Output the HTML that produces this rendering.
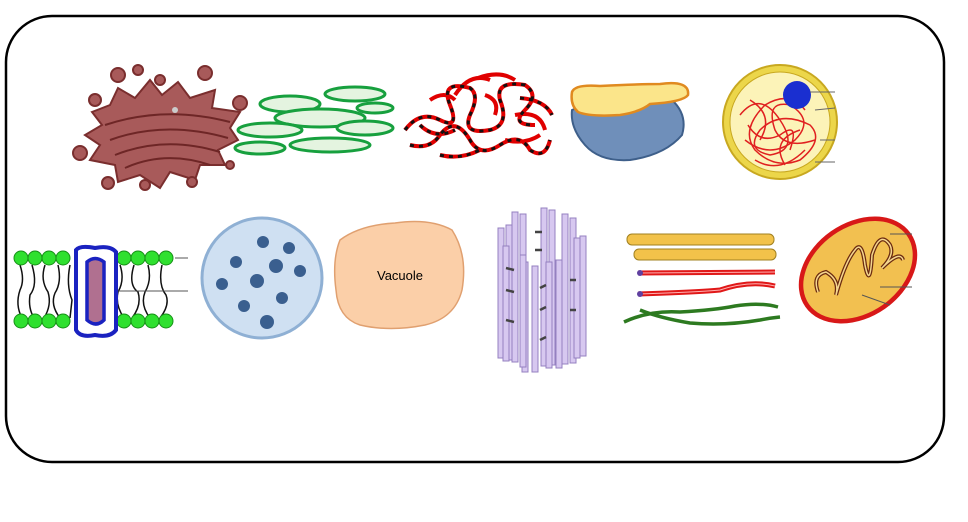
<!DOCTYPE html>
<html><head><style>
html,body{margin:0;padding:0;background:#fff;}
svg{display:block;}
</style></head><body>
<svg width="968" height="522" viewBox="0 0 968 522" xmlns="http://www.w3.org/2000/svg">
<rect x="6" y="16" width="938" height="446" rx="46" ry="46" fill="#fff" stroke="#000" stroke-width="2.5"/>

<!-- Golgi -->
<g fill="#a85a5a" stroke="#7a2e2e" stroke-width="2">
<path d="M92,112 L110,105 L118,88 L135,98 L150,80 L162,95 L178,82 L190,98 L215,90 L212,108 L240,112 L230,128 L238,140 L218,150 L225,165 L200,165 L195,180 L170,172 L160,188 L140,175 L118,182 L115,165 L90,160 L100,145 L85,135 L102,125 Z"/>
<path d="M105,125 Q165,105 230,122 M110,140 Q165,120 228,138 M115,155 Q165,135 220,152 M125,168 Q165,150 210,165" fill="none" stroke="#6e2626"/>
<circle cx="118" cy="75" r="7"/><circle cx="138" cy="70" r="5"/><circle cx="205" cy="73" r="7"/><circle cx="240" cy="103" r="7"/>
<circle cx="95" cy="100" r="6"/><circle cx="80" cy="153" r="7"/><circle cx="108" cy="183" r="6"/><circle cx="145" cy="185" r="5"/>
<circle cx="192" cy="182" r="5"/><circle cx="230" cy="165" r="4"/><circle cx="160" cy="80" r="5"/>
</g>
<circle cx="175" cy="110" r="3" fill="#ccc"/>

<!-- Smooth ER -->
<g fill="#e4f4e0" stroke="#17a03e" stroke-width="3">
<ellipse cx="290" cy="104" rx="30" ry="8"/>
<ellipse cx="355" cy="94" rx="30" ry="7"/>
<ellipse cx="320" cy="118" rx="45" ry="9"/>
<ellipse cx="270" cy="130" rx="32" ry="7"/>
<ellipse cx="365" cy="128" rx="28" ry="7"/>
<ellipse cx="260" cy="148" rx="25" ry="6"/>
<ellipse cx="330" cy="145" rx="40" ry="7"/>
<ellipse cx="375" cy="108" rx="18" ry="5"/>
</g>

<!-- Rough ER -->
<g id="rer" fill="none" stroke="#e00000" stroke-width="4">
<path d="M405,130 Q420,110 440,120 Q460,130 450,105 Q440,80 470,88 Q480,95 470,115 Q462,135 490,130 Q510,125 500,100 Q495,80 525,85 Q540,95 525,110 Q510,125 535,125"/>
<path d="M410,145 Q430,150 440,135 Q455,115 470,140 Q480,158 500,145 Q520,132 530,150 Q545,160 550,140"/>
<path d="M430,100 Q445,90 455,100 M485,95 Q500,100 495,115 M515,115 Q540,110 545,130"/>
<path d="M420,125 Q435,140 455,130 M478,78 Q500,70 515,80 M505,140 Q525,145 540,135 M440,155 Q460,160 480,150"/>
<path d="M455,95 Q470,72 490,80 M520,98 Q545,100 552,115"/>
</g>
<g fill="none" stroke="#111" stroke-width="3" stroke-dasharray="4 5">
<path d="M405,130 Q420,110 440,120 Q460,130 450,105 Q440,80 470,88 Q480,95 470,115 Q462,135 490,130 Q510,125 500,100 Q495,80 525,85 Q540,95 525,110 Q510,125 535,125"/>
<path d="M410,145 Q430,150 440,135 Q455,115 470,140 Q480,158 500,145 Q520,132 530,150 Q545,160 550,140"/>
<path d="M420,125 Q435,140 455,130 M440,155 Q460,160 480,150 M520,98 Q545,100 552,115"/>
</g>

<!-- Ribosome -->
<path d="M572,110 Q570,128 585,145 Q600,162 630,160 Q665,155 682,135 Q688,115 672,100 L620,102 Q590,102 572,110 Z" fill="#6f8fba" stroke="#3e5f8a" stroke-width="2"/>
<path d="M572,92 Q575,84 600,86 Q640,84 660,84 Q690,80 688,95 Q683,102 650,104 Q640,112 620,115 Q590,117 578,112 Q570,105 572,92 Z" fill="#fbe58a" stroke="#e08a20" stroke-width="2.5"/>

<!-- Nucleus -->
<circle cx="780" cy="122" r="57" fill="#ecd64a" stroke="#c8a820" stroke-width="2"/>
<circle cx="780" cy="122" r="50" fill="#fcf3b8" stroke="#c8a820" stroke-width="1"/>
<g fill="none" stroke="#e02020" stroke-width="1.5">
<path d="M740,115 Q760,90 780,120 Q800,150 770,155 Q745,150 760,130 Q780,110 810,125 Q825,140 800,160 Q775,170 755,150 Q740,130 765,105 Q790,90 805,110"/>
<path d="M745,140 Q770,160 795,140 Q815,120 790,105 Q765,100 775,130 Q785,150 815,140 M750,100 Q775,115 760,140 M785,165 Q770,140 800,130"/>
<path d="M748,125 Q760,145 780,135 Q800,120 790,150 M755,160 Q780,175 805,150"/>
</g>
<circle cx="797" cy="95" r="14" fill="#1a2fd0"/>
<g stroke="#666" stroke-width="1"><line x1="810" y1="92" x2="835" y2="92"/><line x1="815" y1="110" x2="835" y2="108"/><line x1="820" y1="140" x2="835" y2="140"/><line x1="815" y1="162" x2="835" y2="162"/></g>

<!-- Membrane -->
<g fill="none" stroke="#111" stroke-width="1.5">
<path d="M20,265 Q25,280 20,290 Q15,305 22,318 M32,265 Q38,285 30,295 Q28,308 34,318 M45,265 Q40,280 48,292 Q52,305 44,318 M58,265 Q62,282 55,293 Q50,305 60,318 M70,265 Q66,285 72,300 L70,318"/>
<path d="M120,265 Q125,280 118,292 Q115,305 124,318 M134,265 Q128,285 138,292 Q142,305 132,318 M148,265 Q152,280 145,292 Q140,305 150,318 M162,265 Q158,285 166,295 Q170,305 160,318"/>
</g>
<g fill="#2fe02f" stroke="#169016" stroke-width="1">
<circle cx="21" cy="258" r="7"/><circle cx="35" cy="258" r="7"/><circle cx="49" cy="258" r="7"/><circle cx="63" cy="258" r="7"/>
<circle cx="124" cy="258" r="7"/><circle cx="138" cy="258" r="7"/><circle cx="152" cy="258" r="7"/><circle cx="166" cy="258" r="7"/>
<circle cx="21" cy="321" r="7"/><circle cx="35" cy="321" r="7"/><circle cx="49" cy="321" r="7"/><circle cx="63" cy="321" r="7"/>
<circle cx="124" cy="321" r="7"/><circle cx="138" cy="321" r="7"/><circle cx="152" cy="321" r="7"/><circle cx="166" cy="321" r="7"/>
</g>
<g stroke="#555" stroke-width="1"><line x1="175" y1="258" x2="188" y2="258"/><line x1="115" y1="291" x2="188" y2="291"/></g>
<path d="M76,250 Q80,245 95,248 Q110,245 116,252 L116,330 Q110,338 95,335 Q80,338 76,330 Z" fill="#fff" stroke="#1a22c0" stroke-width="4"/>
<path d="M87,262 Q95,255 104,262 L104,320 Q96,328 87,320 Z" fill="#b07090" stroke="#1a22c0" stroke-width="3.5"/>

<!-- Lysosome -->
<circle cx="262" cy="278" r="60" fill="#cfe0f2" stroke="#8fb0d4" stroke-width="3"/>
<g fill="#3a5f8f">
<circle cx="263" cy="242" r="6"/><circle cx="289" cy="248" r="6"/><circle cx="236" cy="262" r="6"/><circle cx="276" cy="266" r="7"/>
<circle cx="300" cy="271" r="6"/><circle cx="222" cy="284" r="6"/><circle cx="257" cy="281" r="7"/><circle cx="282" cy="298" r="6"/>
<circle cx="244" cy="306" r="6"/><circle cx="267" cy="322" r="7"/>
</g>

<!-- Vacuole -->
<path d="M340,240 Q360,225 395,223 Q430,218 452,230 Q468,255 462,290 Q455,318 425,325 Q390,332 360,325 Q338,318 336,290 Q332,260 340,240 Z" fill="#fbcfa8" stroke="#e0a070" stroke-width="1.5"/>
<text x="400" y="280" font-family="Liberation Sans, sans-serif" font-size="13" text-anchor="middle" fill="#000">Vacuole</text>

<!-- Centriole -->
<g fill="#d7c8f0" stroke="#9480c0" stroke-width="1">
<rect x="512" y="212" width="6" height="150"/><rect x="520" y="214" width="6" height="148"/><rect x="541" y="208" width="6" height="158"/><rect x="549" y="210" width="6" height="155"/>
<rect x="562" y="214" width="6" height="150"/><rect x="570" y="218" width="6" height="145"/>
<rect x="498" y="228" width="6" height="130"/><rect x="506" y="225" width="6" height="135"/>
<rect x="574" y="238" width="6" height="120"/><rect x="580" y="236" width="6" height="120"/>
<rect x="503" y="246" width="6" height="115"/><rect x="522" y="262" width="6" height="110"/><rect x="532" y="266" width="6" height="106"/>
<rect x="546" y="262" width="6" height="106"/><rect x="556" y="260" width="6" height="108"/><rect x="520" y="255" width="6" height="112"/>
</g>
<g stroke="#444" stroke-width="2.5">
<line x1="535" y1="232" x2="542" y2="232"/><line x1="535" y1="250" x2="542" y2="250"/><line x1="506" y1="268" x2="514" y2="270"/><line x1="506" y1="290" x2="514" y2="292"/>
<line x1="540" y1="288" x2="546" y2="285"/><line x1="540" y1="310" x2="546" y2="307"/><line x1="570" y1="280" x2="576" y2="280"/><line x1="570" y1="310" x2="576" y2="310"/>
<line x1="506" y1="320" x2="514" y2="322"/><line x1="540" y1="340" x2="546" y2="337"/></g>

<!-- Cytoskeleton -->
<rect x="627" y="234" width="147" height="11" rx="5" fill="#f2c24a" stroke="#a08020"/>
<rect x="634" y="249" width="142" height="11" rx="5" fill="#f2c24a" stroke="#a08020"/>
<path d="M638,273 L775,272 M638,294 Q700,292 720,290 Q750,280 775,286" fill="none" stroke="#e01818" stroke-width="5"/>
<path d="M638,273 L775,272 M638,294 Q700,292 720,290 Q750,280 775,286" fill="none" stroke="#ffb0b0" stroke-width="1"/>
<circle cx="640" cy="273" r="3" fill="#6040a0"/><circle cx="640" cy="294" r="3" fill="#6040a0"/>
<path d="M624,322 Q650,310 680,312 Q715,310 735,306 Q760,302 778,307 M640,310 Q660,318 690,323 Q725,326 760,320 Q770,318 780,317" fill="none" stroke="#2d7a20" stroke-width="3.5"/>

<!-- Mitochondrion -->
<ellipse cx="858" cy="270" rx="62" ry="45" transform="rotate(-35 858 270)" fill="#f2c050" stroke="#d81818" stroke-width="4.5"/>
<path d="M818,292 Q812,275 826,272 Q840,280 836,295 Q845,262 855,250 Q862,240 865,265 Q870,290 872,255 Q880,230 890,245 Q895,255 882,268 Q900,250 903,260" fill="none" stroke="#6a2a10" stroke-width="4"/>
<path d="M818,292 Q812,275 826,272 Q840,280 836,295 Q845,262 855,250 Q862,240 865,265 Q870,290 872,255 Q880,230 890,245 Q895,255 882,268 Q900,250 903,260" fill="none" stroke="#f5d890" stroke-width="1.5"/>
<g stroke="#555" stroke-width="1"><line x1="890" y1="234" x2="912" y2="234"/><line x1="880" y1="287" x2="912" y2="287"/><line x1="862" y1="295" x2="890" y2="305"/></g>
</svg>
</body></html>
